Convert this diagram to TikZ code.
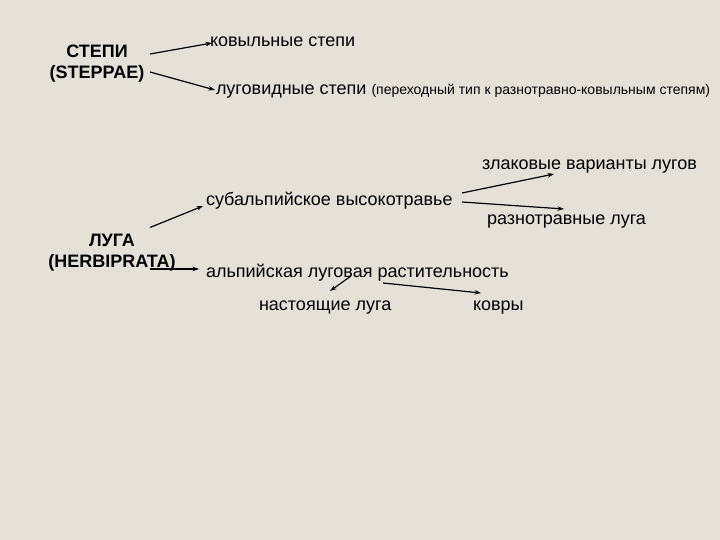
\documentclass[tikz,border=0pt]{standalone}
\usepackage{fontspec}
\setmainfont{Liberation Sans}
\usetikzlibrary{arrows.meta,calc}
\definecolor{bgpaper}{HTML}{E6E1D8}
\begin{document}
\begin{tikzpicture}[x=1pt,y=-1pt,
  lbl/.style={inner sep=0pt,outer sep=0pt,font=\fontsize{18}{21}\selectfont},
  head/.style={inner sep=0pt,outer sep=0pt,align=center,font=\fontsize{18}{21}\selectfont\bfseries},
  link/.style={line width=1.2pt,-{Stealth[length=6.5pt,width=4.5pt]}}]
\fill[bgpaper] (0,0) rectangle (720,540);
\useasboundingbox (0,0) rectangle (720,540);
% nodes
\node[head] (stepi) at (97,64) {СТЕПИ\\(STEPPAE)};
\node[lbl,anchor=base west] (kov) at (210,47) {ковыльные степи};
\node[lbl,anchor=base west] (lug) at (216,95) {луговидные степи {\fontsize{14}{16}\selectfont(переходный тип к разнотравно-ковыльным степям)}};
\node[lbl,anchor=base west] (zlak) at (482,170) {злаковые варианты лугов};
\node[lbl,anchor=base west] (sub) at (206,206) {субальпийское высокотравье};
\node[lbl,anchor=base west] (razn) at (487,225) {разнотравные луга};
\node[head] (luga) at (112,252.5) {ЛУГА\\(HERBIPRATA)};
\node[lbl,anchor=base west] (alp) at (206,277) {альпийская луговая растительность};
\node[lbl,anchor=base west] (nast) at (259,310) {настоящие луга};
\node[lbl,anchor=base west] (kovry) at (473,310) {ковры};
% connectors
\draw[link] ($(stepi.center)+(53,-10)$) -- ($(kov.base west)+(2,-4)$);
\draw[link] ($(stepi.center)+(53,8)$) -- ($(lug.base west)+(-1,-5)$);
\draw[link] ($(luga.center)+(38,-25)$) -- ($(sub.base west)+(-3,0)$);
\draw[link] ($(luga.center)+(38,16.5)$) -- ($(alp.base west)+(-7,-8)$);
\draw[link] ($(sub.base west)+(256,-13)$) -- ($(zlak.base west)+(72,4)$);
\draw[link] ($(sub.base west)+(256,-4)$) -- ($(razn.base west)+(77,-16)$);
\draw[link] ($(alp.base west)+(145,-1)$) -- ($(nast.base west)+(71,-19)$);
\draw[link] ($(alp.base west)+(177,6)$) -- ($(kovry.base west)+(8,-17)$);
\end{tikzpicture}
\end{document}
